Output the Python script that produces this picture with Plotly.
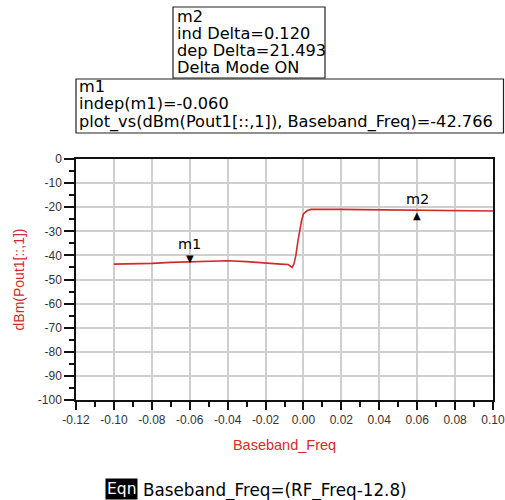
import plotly.graph_objects as go

# ---- data ----
freq = [-0.100, -0.090, -0.080, -0.070, -0.060, -0.050, -0.040, -0.030, -0.020,
        -0.012, -0.008, -0.006, -0.005, -0.004, -0.003, -0.002, -0.001, 0.000,
        0.002, 0.004, 0.010, 0.020, 0.030, 0.040, 0.050, 0.060, 0.070, 0.080,
        0.090, 0.100]
pout_dbm = [-43.6, -43.5, -43.3, -42.9, -42.766, -42.4, -42.2, -42.6, -43.3,
            -43.6, -43.8, -45.0, -43.5, -40.0, -34.5, -29.5, -25.5, -22.8,
            -21.4, -20.9, -20.8, -20.9, -21.0, -21.1, -21.2, -21.273, -21.35, -21.45,
            -21.5, -21.55]

marker_names = ["m1", "m2"]
marker_x = [-0.060, 0.060]
marker_y = [-42.766, -21.273]

x_tick_vals = [-0.12, -0.10, -0.08, -0.06, -0.04, -0.02, 0.00, 0.02, 0.04, 0.06, 0.08, 0.10]
x_tick_text = ["-0.12", "-0.10", "-0.08", "-0.06", "-0.04", "-0.02", "0.00", "0.02",
               "0.04", "0.06", "0.08", "0.10"]
y_tick_vals = [0, -10, -20, -30, -40, -50, -60, -70, -80, -90, -100]
y_tick_text = ["0", "-10", "-20", "-30", "-40", "-50", "-60", "-70", "-80", "-90", "-100"]

m2_lines = ["m2", "ind Delta=0.120", "dep Delta=21.493", "Delta Mode ON"]
m1_lines = ["m1", "indep(m1)=-0.060", "plot_vs(dBm(Pout1[::,1]), Baseband_Freq)=-42.766"]
eqn_label = "Eqn"
eqn_text = "Baseband_Freq=(RF_Freq-12.8)"

# ---- layout geometry (pixels) ----
W, H = 505, 500
L, R, T, B = 76, 12, 159, 100
PW = W - L - R
PH = H - T - B


def px(x):
    return (x - L) / PW


def py(y):
    return (H - B - y) / PH


RED = "#d42a2a"
TXT_FONT = "DejaVu Sans"

fig = go.Figure()
fig.add_trace(go.Scatter(x=freq, y=pout_dbm, mode="lines",
                         line=dict(color=RED, width=1.6), showlegend=False,
                         hoverinfo="skip"))

annotations = []
# marker triangles and labels
tri = {"m1": ("▼", 4, 18), "m2": ("▲", -5, 11)}
for name, mx, my in zip(marker_names, marker_x, marker_y):
    sym, tshift, lshift = tri[name]
    annotations.append(dict(x=mx, y=my, xref="x", yref="y", text=sym, showarrow=False,
                            yanchor="middle", yshift=tshift,
                            font=dict(family=TXT_FONT, size=10, color="black")))
    annotations.append(dict(x=mx, y=my, xref="x", yref="y", text=name, showarrow=False,
                            yanchor="middle", yshift=lshift,
                            font=dict(family=TXT_FONT, size=14.5, color="black")))

shapes = []
TFS = 16.2
# m2 box
shapes.append(dict(type="rect", xref="paper", yref="paper",
                   x0=px(173), x1=px(325), y0=py(78), y1=py(7),
                   line=dict(color="#222", width=1.2), fillcolor="white", layer="above"))
for i, t in enumerate(m2_lines):
    base = 21.5 + i * 17.3
    annotations.append(dict(x=px(175), y=py(base - 5.5), xref="paper", yref="paper",
                            text=t, showarrow=False, xanchor="left", yanchor="middle",
                            font=dict(family=TXT_FONT, size=TFS, color="black")))
# m1 box
shapes.append(dict(type="rect", xref="paper", yref="paper",
                   x0=px(76), x1=px(503.5), y0=py(133), y1=py(79),
                   line=dict(color="#222", width=1.2), fillcolor="white", layer="above"))
for i, t in enumerate(m1_lines):
    base = 92 + i * 17.5
    annotations.append(dict(x=px(77), y=py(base - 5.5), xref="paper", yref="paper",
                            text=t, showarrow=False, xanchor="left", yanchor="middle",
                            font=dict(family=TXT_FONT, size=TFS, color="black")))

# equation
annotations.append(dict(x=px(105), y=py(488.5), xref="paper", yref="paper",
                        text=eqn_label, showarrow=False, xanchor="left", yanchor="middle",
                        bgcolor="black", borderpad=1,
                        font=dict(family=TXT_FONT, size=15.5, color="white")))
annotations.append(dict(x=px(141), y=py(490), xref="paper", yref="paper",
                        text=eqn_text, showarrow=False, xanchor="left", yanchor="middle",
                        font=dict(family=TXT_FONT, size=16.8, color="black")))

axis_common = dict(showline=True, linecolor="#111", linewidth=1.5, mirror=True,
                   ticks="outside", tickcolor="#111", tickwidth=1.5,
                   showgrid=True, gridcolor="#cfcfcf", gridwidth=1.5,
                   zeroline=False, automargin=False, ticklabeloverflow="allow",
                   tickfont=dict(family="Liberation Sans", size=12, color="#333"))

fig.update_layout(
    width=W, height=H,
    margin=dict(l=L, r=R, t=T, b=B, pad=0, autoexpand=False),
    paper_bgcolor="white", plot_bgcolor="white",
    showlegend=False,
    annotations=annotations,
    shapes=shapes,
    xaxis=dict(range=[-0.12, 0.10], tickmode="array", tickvals=x_tick_vals,
               ticktext=x_tick_text, ticklen=8,
               minor=dict(dtick=0.01, tick0=0, ticks="outside", ticklen=5,
                          tickcolor="#111", tickwidth=1.5, showgrid=False),
               title=dict(text="Baseband_Freq", standoff=14,
                          font=dict(family="Liberation Sans", size=14.5, color=RED)),
               **axis_common),
    yaxis=dict(range=[-100, 0], tickmode="array", tickvals=y_tick_vals,
               ticktext=y_tick_text, ticklen=10,
               minor=dict(dtick=5, tick0=0, ticks="outside", ticklen=5,
                          tickcolor="#111", tickwidth=1.5, showgrid=False),
               title=dict(text="dBm(Pout1[::,1])", standoff=10,
                          font=dict(family="Liberation Sans", size=14, color=RED)),
               **axis_common),
)

fig.write_html("out.html", config={"displayModeBar": False},
               post_script="document.body.style.margin='0';document.body.style.padding='0';")
